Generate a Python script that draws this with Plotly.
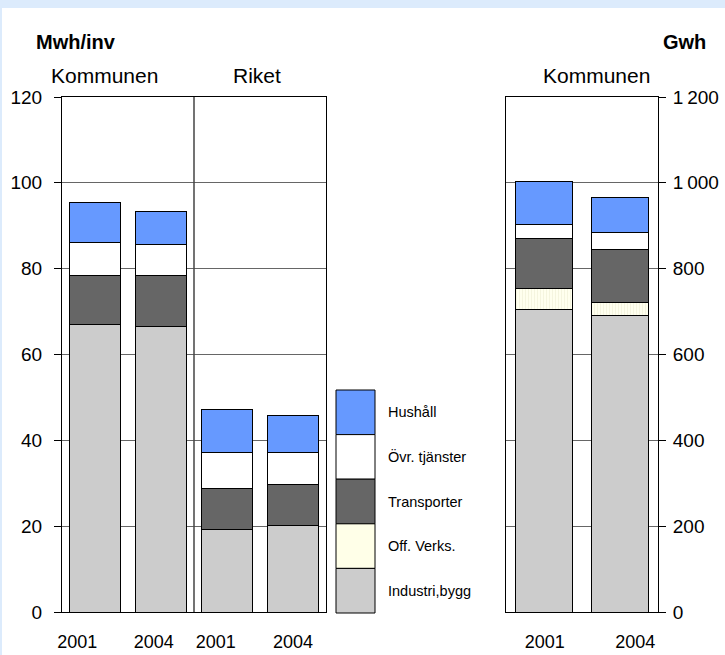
import plotly.graph_objects as go

# ---------------- data ----------------
series = ["Industri,bygg", "Off. Verks.", "Transporter", "Övr. tjänster", "Hushåll"]
colors = ["#CCCCCC", "#FFFFEE", "#666666", "#FFFFFF", "#6699FF"]

left_labels = ["2001", "2004", "2001", "2004"]          # Kommunen 2001/2004, Riket 2001/2004
left_values = {                                        # Mwh/inv
    "Industri,bygg": [67.1, 66.5, 19.3, 20.1],
    "Off. Verks.":   [0.0, 0.0, 0.0, 0.0],
    "Transporter":   [11.3, 11.8, 9.4, 9.7],
    "Övr. tjänster": [7.8, 7.3, 8.4, 7.3],
    "Hushåll":       [9.3, 7.7, 10.0, 8.6],
}
right_labels = ["2001", "2004"]                        # Kommunen, Gwh
right_values = {
    "Industri,bygg": [706, 690],
    "Off. Verks.":   [47, 32],
    "Transporter":   [117, 123],
    "Övr. tjänster": [34, 40],
    "Hushåll":       [98, 80],
}
left_ticks = [0, 20, 40, 60, 80, 100, 120]
right_ticks = [0, 200, 400, 600, 800, 1000, 1200]
right_ticktext = ["0", "200", "400", "600", "800", "1\u2009000", "1\u2009200"]

# ---------------- layout geometry ----------------
W, H = 725, 655
L, R, T, B = 62, 67, 97, 43
PW, PH = W - L - R, H - T - B


def px(x):
    return (x - L) / PW


def py(y):
    return (H - B - y) / PH


FONT = "Liberation Sans, Arial, sans-serif"

fig = go.Figure()

for name, col in zip(series, colors):
    pattern = None
    if name == "Off. Verks.":
        pattern = dict(shape="|", fgcolor="#E6E6C8", bgcolor="#FFFFEE", size=3, solidity=0.25)
    fig.add_trace(go.Bar(
        x=list(range(len(left_labels))), y=left_values[name], name=name,
        marker=dict(color=col, line=dict(color="black", width=1), pattern=pattern),
        width=0.77, xaxis="x", yaxis="y", showlegend=False,
    ))
    fig.add_trace(go.Bar(
        x=list(range(len(right_labels))), y=right_values[name], name=name,
        marker=dict(color=col, line=dict(color="black", width=1), pattern=pattern),
        width=0.74, xaxis="x2", yaxis="y2", showlegend=False,
    ))

axis_common = dict(showline=True, linecolor="black", linewidth=1, mirror=True, automargin=False)

fig.update_layout(
    width=W, height=H,
    margin=dict(l=L, r=R, t=T, b=B, autoexpand=False),
    barmode="stack",
    paper_bgcolor="white", plot_bgcolor="white",
    font=dict(family=FONT, color="black"),
    xaxis=dict(domain=[0, 264 / PW], range=[-0.5, 3.5], anchor="y",
               tickmode="array", tickvals=[-0.27, 0.89, 1.83, 3.0], ticktext=left_labels,
               ticks="", showgrid=False, ticklabelstandoff=13,
               tickfont=dict(size=18), **axis_common),
    yaxis=dict(range=[0, 120], anchor="x", tickmode="array", tickvals=left_ticks,
               ticks="outside", ticklen=7, tickcolor="black", ticklabelstandoff=8,
               showgrid=True, gridcolor="#666666", gridwidth=1, zeroline=False,
               tickfont=dict(size=19), **axis_common),
    xaxis2=dict(domain=[444 / PW, 1], range=[-0.5, 1.5], anchor="y2",
                tickmode="array", tickvals=[0.01, 1.2], ticktext=right_labels,
                ticks="", showgrid=False, ticklabelstandoff=13,
                tickfont=dict(size=18), **axis_common),
    yaxis2=dict(range=[0, 1200], anchor="x2", side="right", tickmode="array",
                tickvals=right_ticks, ticktext=right_ticktext,
                ticks="outside", ticklen=7, tickcolor="black", ticklabelstandoff=3,
                showgrid=True, gridcolor="#666666", gridwidth=1, zeroline=False,
                tickfont=dict(size=19), **axis_common),
)

shapes = []
# light-blue frame at top and left edge
shapes.append(dict(type="rect", xref="paper", yref="paper", x0=px(0), x1=px(W), y0=py(8), y1=py(0),
                   fillcolor="#DCEBFC", line=dict(width=0), layer="below"))
shapes.append(dict(type="rect", xref="paper", yref="paper", x0=px(0), x1=px(2), y0=py(H), y1=py(0),
                   fillcolor="#DCEBFC", line=dict(width=0), layer="below"))
# divider between Kommunen and Riket
shapes.append(dict(type="line", xref="x", yref="y domain", x0=1.5, x1=1.5, y0=0, y1=1,
                   line=dict(color="#444444", width=1.5), layer="above"))

# legend boxes (top = last series)
box_top, box_bottom = 390, 613
bh = (box_bottom - box_top) / len(series)
annotations = []
for i, (name, col) in enumerate(zip(series[::-1], colors[::-1])):
    y0 = box_top + i * bh
    y1 = y0 + bh
    shapes.append(dict(type="rect", xref="paper", yref="paper", x0=px(336), x1=px(375),
                       y0=py(y1), y1=py(y0), fillcolor=("#FFFFE8" if name == "Off. Verks." else col),
                       line=dict(color="black", width=1)))
    annotations.append(dict(text=name, xref="paper", yref="paper", x=px(386), y=py((y0 + y1) / 2),
                            xanchor="left", yanchor="middle", showarrow=False,
                            font=dict(size=14.5, family=FONT)))

# titles
annotations += [
    dict(text="<b>Mwh/inv</b>", xref="paper", yref="paper", x=px(34), y=py(42), xanchor="left",
         yanchor="middle", showarrow=False, font=dict(size=20, family=FONT)),
    dict(text="<b>Gwh</b>", xref="paper", yref="paper", x=px(708), y=py(42), xanchor="right",
         yanchor="middle", showarrow=False, font=dict(size=20, family=FONT)),
    dict(text="Kommunen", xref="paper", yref="paper", x=px(104), y=py(76), xanchor="center",
         yanchor="middle", showarrow=False, font=dict(size=21, family=FONT)),
    dict(text="Riket", xref="paper", yref="paper", x=px(257), y=py(76), xanchor="center",
         yanchor="middle", showarrow=False, font=dict(size=21, family=FONT)),
    dict(text="Kommunen", xref="paper", yref="paper", x=px(596), y=py(76), xanchor="center",
         yanchor="middle", showarrow=False, font=dict(size=21, family=FONT)),
]

fig.update_layout(shapes=shapes, annotations=annotations)
fig.write_html("out.html", config={"displayModeBar": False},
               post_script="document.body.style.margin='0';")
